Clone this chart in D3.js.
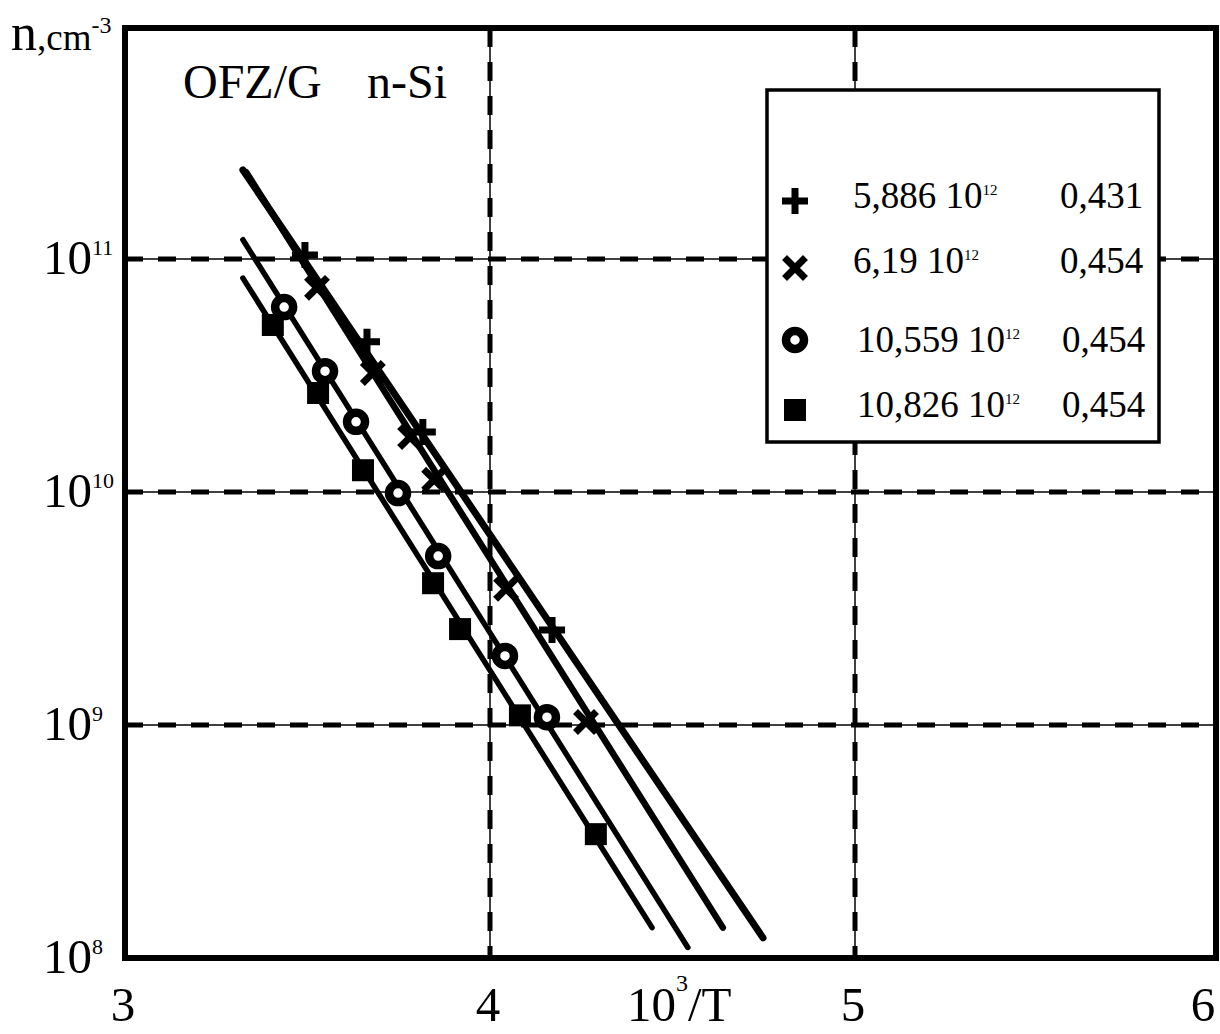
<!DOCTYPE html>
<html>
<head>
<meta charset="utf-8">
<script src="https://cdn.jsdelivr.net/npm/d3@7"></script>
<style>
  body { margin: 0; background: #fff; }
  svg { display: block; font-family: "Liberation Serif", "Times New Roman", serif; }
</style>
</head>
<body>
<div class="chart"></div>
<script>
// axis ticks
var xTicks = [3, 4, 5, 6];
var yTicks = [1e8, 1e9, 1e10, 1e11];
var yExps = ["8", "9", "10", "11"];
var xGrid = [4, 5];
var yGrid = [1e9, 1e10, 1e11];

// measured points (10^3/T, n)
var plusX = [3.493, 3.663, 3.816, 4.170];
var plusN = [1.04e11, 4.41e10, 1.81e10, 2.56e9];
var crossX = [3.526, 3.679, 3.781, 3.847, 4.044, 4.263];
var crossN = [7.52e10, 3.24e10, 1.72e10, 1.13e10, 3.84e9, 1.03e9];
var circleX = [3.436, 3.548, 3.633, 3.748, 3.858, 4.041, 4.156];
var circleN = [6.22e10, 3.30e10, 2.00e10, 9.9e9, 5.31e9, 1.98e9, 1.08e9];
var squareX = [3.405, 3.529, 3.652, 3.844, 3.918, 4.082, 4.290];
var squareN = [5.21e10, 2.66e10, 1.24e10, 4.06e9, 2.58e9, 1.10e9, 3.40e8];

// fitted lines, end points
var plusFitX = [3.323, 4.748];
var plusFitN = [2.41e11, 1.22e8];
var crossFitX = [3.332, 4.638];
var crossFitN = [2.36e11, 1.35e8];
var circleFitX = [3.323, 4.542];
var circleFitN = [1.21e11, 1.11e8];
var squareFitX = [3.323, 4.444];
var squareFitN = [8.28e10, 1.35e8];

// legend
var legendConc = ["5,886", "6,19", "10,559", "10,826"];
var legendEnergy = ["0,431", "0,454", "0,454", "0,454"];

function zip(a, b) { return a.map(function(v, i) { return [v, b[i]]; }); }

var series = [
  {type: "plus",   pts: zip(plusX, plusN),     fit: zip(plusFitX, plusFitN),     w: 7},
  {type: "cross",  pts: zip(crossX, crossN),   fit: zip(crossFitX, crossFitN),   w: 6.5},
  {type: "circle", pts: zip(circleX, circleN), fit: zip(circleFitX, circleFitN), w: 5.5},
  {type: "square", pts: zip(squareX, squareN), fit: zip(squareFitX, squareFitN), w: 5.5}
];

var svg = d3.select(".chart")
  .append("svg")
  .attr("width", 1220)
  .attr("height", 1034);

var x = d3.scaleLinear().domain([3, 6]).range([125, 1220]);
var y = d3.scaleLog().domain([1e8, 1e12]).range([958, 26]);

var plotLeft = x(3), plotRight = x(6) - 4, plotTop = y(1e12) + 2, plotBottom = y(1e8);

// grid lines: thin solid line with thick dashes over it
var grid = svg.append("g");
xGrid.forEach(function(v) {
  grid.append("line").attr("x1", x(v)).attr("x2", x(v)).attr("y1", plotTop).attr("y2", plotBottom)
    .attr("stroke", "#000").attr("stroke-width", 1.5);
  grid.append("line").attr("x1", x(v)).attr("x2", x(v)).attr("y1", plotTop).attr("y2", plotBottom)
    .attr("stroke", "#000").attr("stroke-width", 5).attr("stroke-dasharray", "19,15");
});
yGrid.forEach(function(v) {
  grid.append("line").attr("x1", plotLeft).attr("x2", plotRight).attr("y1", y(v)).attr("y2", y(v))
    .attr("stroke", "#000").attr("stroke-width", 1.5);
  grid.append("line").attr("x1", plotLeft).attr("x2", plotRight).attr("y1", y(v)).attr("y2", y(v))
    .attr("stroke", "#000").attr("stroke-width", 5).attr("stroke-dasharray", "18,15");
});

// frame
svg.append("rect")
  .attr("x", plotLeft).attr("y", plotTop)
  .attr("width", plotRight - plotLeft).attr("height", plotBottom - plotTop)
  .attr("fill", "none").attr("stroke", "#000").attr("stroke-width", 6);

// fit lines
var line = d3.line().x(function(d) { return x(d[0]); }).y(function(d) { return y(d[1]); });
series.forEach(function(s) {
  svg.append("path").attr("d", line(s.fit))
    .attr("fill", "none").attr("stroke", "#000")
    .attr("stroke-width", s.w).attr("stroke-linecap", "round");
});

function marker(g, type, cx, cy) {
  if (type === "plus") {
    g.append("path")
      .attr("d", "M" + (cx - 13) + "," + cy + "H" + (cx + 13) + "M" + cx + "," + (cy - 13) + "V" + (cy + 13))
      .attr("stroke", "#000").attr("stroke-width", 7);
  } else if (type === "cross") {
    g.append("path")
      .attr("d", "M" + (cx - 8) + "," + (cy - 8) + "L" + (cx + 8) + "," + (cy + 8) +
                 "M" + (cx - 8) + "," + (cy + 8) + "L" + (cx + 8) + "," + (cy - 8))
      .attr("stroke", "#000").attr("stroke-width", 7).attr("stroke-linecap", "square");
  } else if (type === "circle") {
    g.append("circle").attr("cx", cx).attr("cy", cy).attr("r", 9)
      .attr("fill", "#fff").attr("stroke", "#000").attr("stroke-width", 8.5);
  } else {
    g.append("rect").attr("x", cx - 11).attr("y", cy - 11)
      .attr("width", 22).attr("height", 22).attr("fill", "#000");
  }
}

var marks = svg.append("g");
series.forEach(function(s) {
  s.pts.forEach(function(p) { marker(marks, s.type, x(p[0]), y(p[1])); });
});

// legend
var legend = svg.append("g");
legend.append("rect")
  .attr("x", 767).attr("y", 90).attr("width", 392).attr("height", 352)
  .attr("fill", "#fff").attr("stroke", "#000").attr("stroke-width", 3.5);

var rowMarkY = [201, 268, 340, 410];
var rowTextY = [208, 273, 352, 417];
series.forEach(function(s, i) {
  marker(legend, s.type, 795, rowMarkY[i]);
  var tx = i < 2 ? 853 : 857;
  var t = legend.append("text").attr("x", tx).attr("y", rowTextY[i])
    .style("font-size", "37px");
  t.append("tspan").text(legendConc[i] + " 10");
  t.append("tspan").attr("dy", -13).style("font-size", "15px").text("12");
  legend.append("text").attr("x", i < 2 ? 1060 : 1062).attr("y", rowTextY[i])
    .style("font-size", "37px").text(legendEnergy[i]);
});

// sample label
svg.append("text").attr("x", 183).attr("y", 98).style("font-size", "48px").text("OFZ/G");
svg.append("text").attr("x", 367).attr("y", 98).style("font-size", "48px").text("n-Si");

// y tick labels
yTicks.forEach(function(t, i) {
  var lab = svg.append("text").attr("x", 43).attr("y", y(t) + 15).style("font-size", "49px");
  lab.append("tspan").text("10");
  lab.append("tspan").attr("dy", -19).style("font-size", "22px").text(yExps[i]);
});

// x tick labels
xTicks.forEach(function(t) {
  svg.append("text").attr("x", Math.min(x(t) - 2, 1203)).attr("y", 1021)
    .attr("text-anchor", "middle").style("font-size", "49px").text(t);
});

// axis titles
var xt = svg.append("text").attr("x", 627).attr("y", 1021).style("font-size", "49px");
xt.append("tspan").text("10");
xt.append("tspan").attr("dy", -30).style("font-size", "24px").text("3");
xt.append("tspan").attr("dy", 30).text("/T");

var yt = svg.append("text").attr("x", 11).attr("y", 50);
yt.append("tspan").style("font-size", "52px").text("n");
yt.append("tspan").style("font-size", "37px").text(",cm");
yt.append("tspan").attr("dy", -17).style("font-size", "24px").text("-3");
</script>
</body>
</html>
